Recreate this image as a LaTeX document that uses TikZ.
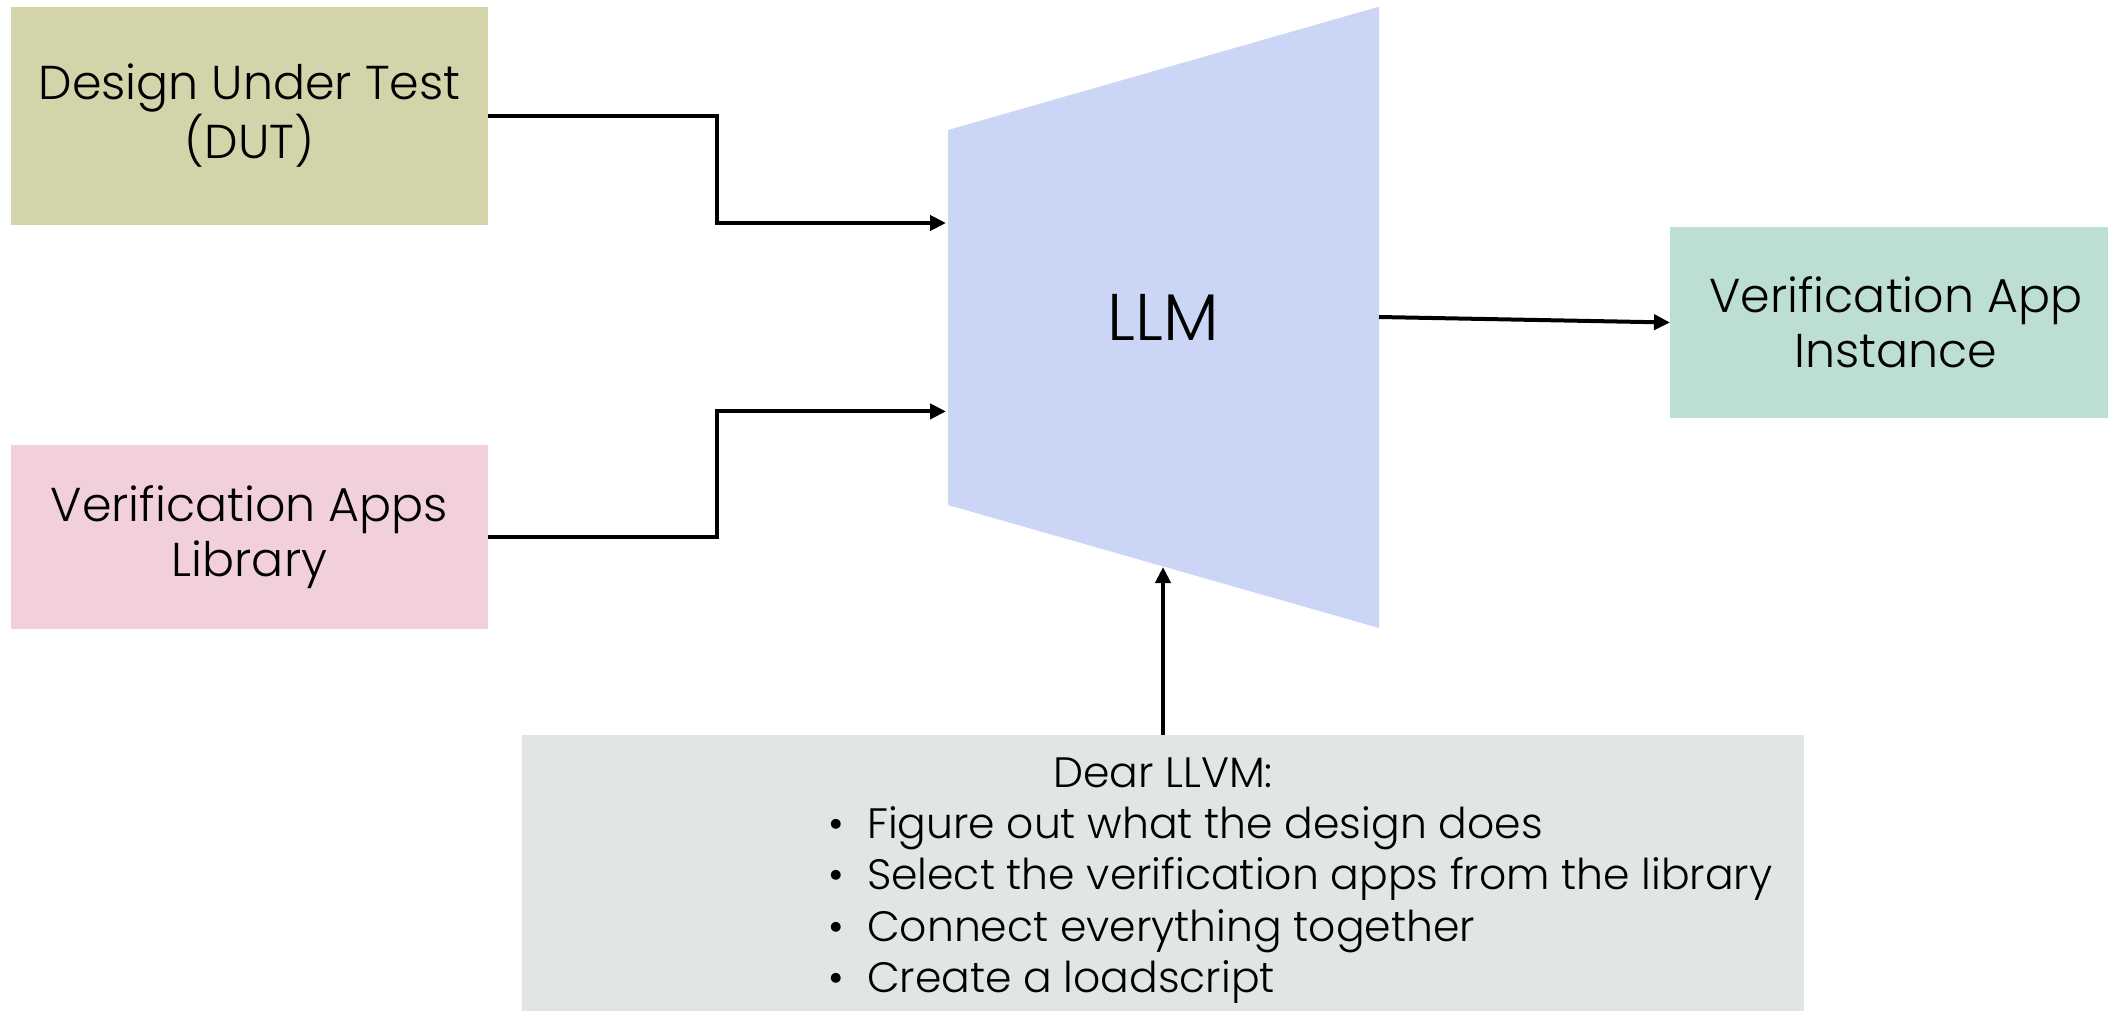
\documentclass[tikz,border=0pt]{standalone}
\usepackage{fontspec}
\setmainfont{Poppins}[UprightFont={* Light}]
\usetikzlibrary{arrows.meta,positioning}
\definecolor{dutfill}{RGB}{211,212,170}
\definecolor{libfill}{RGB}{241,208,220}
\definecolor{llmfill}{RGB}{203,213,245}
\definecolor{outfill}{RGB}{189,222,212}
\definecolor{promptfill}{RGB}{225,229,228}
\tikzset{
  block/.style={inner sep=0pt, outer sep=0pt, align=center},
  boxtext/.style={font=\fontsize{47.5}{55}\selectfont, align=center},
  listtext/.style={font=\fontsize{42.5}{51.5}\selectfont, align=left, anchor=north west, inner sep=0pt},
  link/.style={line width=4pt, -{Triangle[length=16pt,width=15pt]}},
}
\begin{document}
\begin{tikzpicture}[x=1pt,y=-1pt]
\useasboundingbox (0,0) rectangle (2108,1011);

% input and output blocks
\node[block, fill=dutfill, minimum width=477pt, minimum height=218pt] (dut) at (249.5,115.6) {};
\node[boxtext] (duttext) at (dut.center) {Design Under Test\\(DUT)};
\node[block, fill=libfill, minimum width=477pt, minimum height=184pt] (lib) at (249.5,537) {};
\node[boxtext] (libtext) at (lib.center) {Verification Apps\\Library};
\node[block, fill=outfill, minimum width=438pt, minimum height=191pt] (out) at (1889,322.5) {};
\node[boxtext] (outtext) at (1896,322) {Verification App\\Instance};

% the LLM trapezoid
\coordinate (tl) at (948,130);
\coordinate (tr) at (1379,6.7);
\coordinate (br) at (1379,628);
\coordinate (bl) at (948,505);
\fill[llmfill] (tl) -- (tr) -- (br) -- (bl) -- cycle;
\node[font=\fontsize{66}{70}\selectfont] (llm) at (1163,317) {LLM};
\coordinate (llmin1) at (946,223);
\coordinate (llmin2) at (946,411.4);
\coordinate (llmout) at (1379,317);
\coordinate (llmbot) at (1163,567);

% prompt box
\node[block, fill=promptfill, minimum width=1282pt, minimum height=290pt, anchor=north] (prompt) at (1163,735) {};
\node[font=\fontsize{42.5}{50}\selectfont] (dear) at (1163,773) {Dear LLVM:};
\node[listtext] (steps) at (828,806) {%
  \textbullet\ \ Figure out what the design does\\
  \textbullet\ \ Select the verification apps from the library\\
  \textbullet\ \ Connect everything together\\
  \textbullet\ \ Create a loadscript};

% connectors
\draw[link] (dut.east) -- ++(228.6,0) |- (llmin1);
\draw[link] (lib.east) -- ++(228.6,0) |- (llmin2);
\draw[link] (llmout) -- (out.west);
\draw[link] (prompt.north -| llmbot) -- (llmbot);
\end{tikzpicture}
\end{document}
